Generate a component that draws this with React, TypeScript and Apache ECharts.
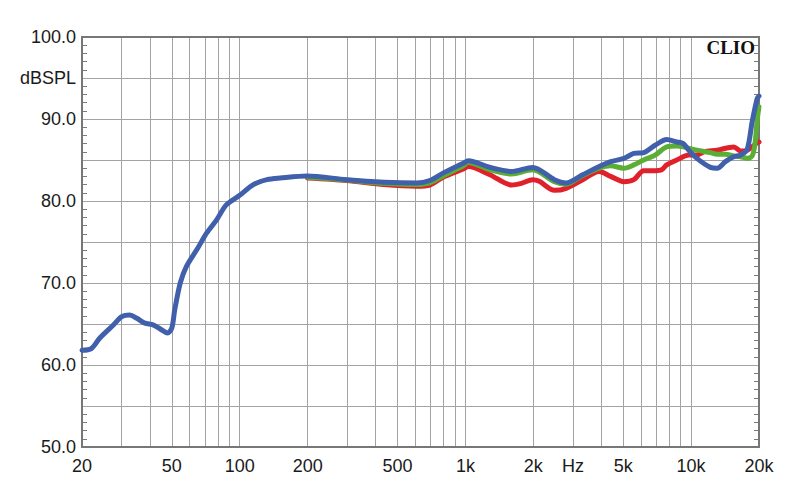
import React, { useEffect, useRef } from 'react';
import * as echarts from 'echarts';

// Frequency grid (Hz) and labelled frequencies
const gridFreqs = [
  20, 30, 40, 50, 60, 70, 80, 90, 100,
  200, 300, 400, 500, 600, 700, 800, 900, 1000,
  2000, 3000, 4000, 5000, 6000, 7000, 8000, 9000, 10000, 20000,
];
const labelFreqs = [20, 50, 100, 200, 500, 1000, 2000, 3000, 5000, 10000, 20000];
const labelTexts = ['20', '50', '100', '200', '500', '1k', '2k', 'Hz', '5k', '10k', '20k'];

// Blue curve
const blueFreq = [
  20, 22, 24, 27.6, 30, 32.6, 35, 38, 41.3, 45, 47.9, 50, 51.5, 54.5, 58, 65, 71.4, 79, 87, 100,
  115, 132, 151, 199, 297, 436, 608, 695, 796, 979, 1030, 1285, 1600, 1986, 2480, 2795, 3307,
  3917, 4400, 5040, 5580, 6165, 6930, 7800, 8640, 9240, 9760, 10610, 12190, 13050, 14200, 15460,
  16560, 17730, 18660, 19640, 20000,
];
const blueDb = [
  61.8, 62.0, 63.3, 64.9, 65.9, 66.1, 65.7, 65.1, 64.9, 64.3, 63.9, 64.5, 66.7, 70.0, 72.0, 74.2,
  76.1, 77.7, 79.5, 80.7, 82.0, 82.6, 82.8, 83.05, 82.6, 82.3, 82.2, 82.5, 83.4, 84.6, 84.9, 84.1,
  83.6, 84.1, 82.6, 82.2, 83.2, 84.2, 84.8, 85.2, 85.8, 85.9, 86.8, 87.5, 87.2, 87.0, 86.2, 85.2,
  84.1, 84.0, 84.8, 85.4, 85.6, 86.3, 89.7, 92.5, 92.8,
];

// Green curve
const greenFreq = [
  200, 297, 436, 608, 695, 796, 979, 1030, 1285, 1600, 1986, 2480, 2795, 3307, 3917, 4400, 5040,
  5580, 6165, 6930, 7800, 8640, 9240, 10610, 12190, 13050, 14200, 15460, 16560, 17730, 18660,
  19200, 19640, 20000,
];
const greenDb = [
  82.9, 82.55, 82.15, 82.0, 82.2, 83.05, 84.3, 84.7, 83.8, 83.3, 83.8, 82.35, 82.05, 83.1, 84.0,
  84.3, 84.0, 84.4, 85.0, 85.6, 86.6, 86.7, 86.6, 86.2, 85.9, 85.7, 85.7, 85.5, 85.4, 85.2, 85.5,
  87.0, 89.9, 91.5,
];

// Red curve
const redFreq = [
  200, 297, 436, 608, 695, 796, 979, 1030, 1285, 1600, 1769, 1986, 2125, 2480, 2795, 3307, 3917,
  4400, 5040, 5580, 6165, 6930, 7410, 7800, 8640, 9760, 10610, 11380, 13050, 15460, 16560, 17730,
  19640, 20000,
];
const redDb = [
  82.8, 82.5, 82.0, 81.8, 81.95, 82.9, 83.9, 84.2, 83.2, 81.95, 82.15, 82.6, 82.4, 81.3, 81.55,
  82.6, 83.6, 83.0, 82.35, 82.6, 83.7, 83.7, 83.8, 84.4, 85.0, 85.6, 85.6, 86.0, 86.2, 86.6, 86.1,
  86.2, 87.1, 87.2,
];

const lg = (f: number) => Math.log10(f);
const pairs = (fs: number[], ds: number[]) => fs.map((f, i) => [lg(f), ds[i]]);

const FONT = '"Liberation Sans", Arial, sans-serif';

export default function App() {
  const ref = useRef<HTMLDivElement>(null);
  useEffect(() => {
    if (!ref.current) return;
    const chart = echarts.init(ref.current, undefined, { renderer: 'svg' });
    const lineSeries = (data: number[][], color: string, z: number) => ({
      type: 'line',
      data,
      showSymbol: false,
      smooth: 0.3,
      z,
      lineStyle: { color, width: 5, cap: 'round', join: 'round' },
      emphasis: { disabled: true },
    });
    chart.setOption({
      animation: false,
      backgroundColor: '#ffffff',
      grid: {
        left: 82,
        right: 41,
        top: 37,
        bottom: 57,
        show: true,
        borderColor: '#777777',
        borderWidth: 2,
        backgroundColor: 'transparent',
        z: 3,
      },
      xAxis: {
        type: 'value',
        min: lg(20),
        max: lg(20000),
        axisLine: { show: false },
        axisTick: { show: false, customValues: gridFreqs.map(lg) },
        splitLine: { show: true, lineStyle: { color: '#a3a3a3', width: 1 } },
        axisLabel: {
          customValues: labelFreqs.map(lg),
          margin: 10,
          color: '#1a1a1a',
          fontSize: 18,
          fontFamily: FONT,
          formatter: (v: number) => {
            const i = labelFreqs.findIndex((f) => Math.abs(lg(f) - v) < 1e-6);
            return i >= 0 ? labelTexts[i] : '';
          },
        },
      },
      yAxis: [
        {
          type: 'value',
          min: 50,
          max: 100,
          interval: 5,
          axisLine: { show: false },
          axisTick: { show: false, inside: true },
          minorTick: { show: true, splitNumber: 5, length: 5, lineStyle: { color: '#7a7a7a', width: 1 } },
          splitLine: { show: true, lineStyle: { color: '#a3a3a3', width: 1 } },
          axisLabel: {
            margin: 6,
            color: '#1a1a1a',
            fontSize: 18,
            fontFamily: FONT,
            formatter: (v: number) => {
              if (v === 95) return 'dBSPL';
              if (v % 10 === 0) return v.toFixed(1);
              return '';
            },
          },
        },
        {
          type: 'value',
          position: 'right',
          min: 50,
          max: 100,
          interval: 5,
          axisLine: { show: false },
          axisTick: { show: false, inside: true },
          minorTick: { show: true, splitNumber: 5, length: 5, lineStyle: { color: '#7a7a7a', width: 1 } },
          splitLine: { show: false },
          axisLabel: { show: false },
        },
      ],
      graphic: [
        {
          type: 'text',
          right: 45,
          top: 38,
          style: {
            text: 'CLIO',
            font: 'bold 19px "Liberation Serif", "Times New Roman", serif',
            fill: '#111111',
          },
          z: 10,
        },
      ],
      series: [
        lineSeries(pairs(redFreq, redDb), '#e0202a', 4),
        lineSeries(pairs(greenFreq, greenDb), '#5aae34', 5),
        lineSeries(pairs(blueFreq, blueDb), '#4060ac', 6),
      ],
    });
    return () => chart.dispose();
  }, []);
  return (
    <div
      ref={ref}
      style={{ position: 'fixed', left: 0, top: 0, width: 800, height: 504, background: '#fff' }}
    />
  );
}
